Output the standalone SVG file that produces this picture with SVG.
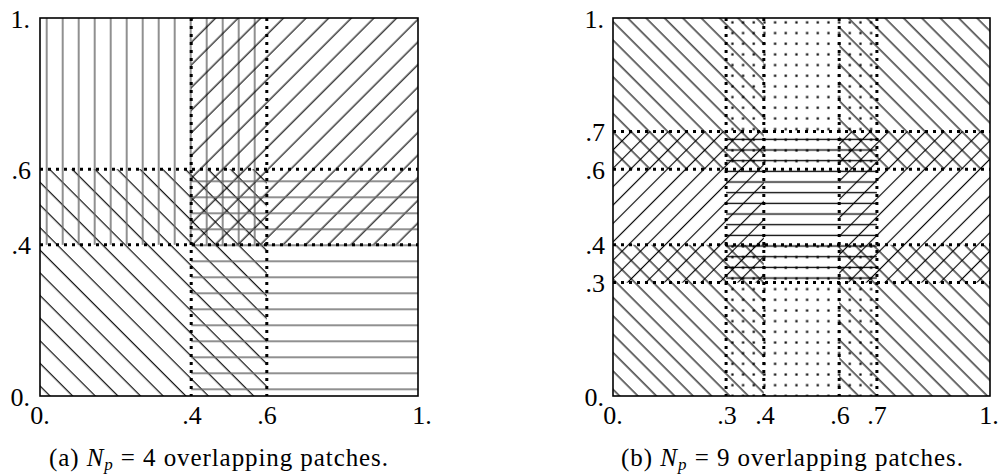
<svg xmlns="http://www.w3.org/2000/svg" width="1001" height="474" viewBox="0 0 1001 474">
<style>
.lbl{font-family:"Liberation Serif","DejaVu Serif",serif;font-size:26px;fill:#000}
.cap{font-family:"Liberation Serif","DejaVu Serif",serif;font-size:25px;fill:#000}
.dot{stroke:#000;stroke-width:3;stroke-dasharray:3 5;fill:none}
.frame{fill:none;stroke:#000;stroke-width:1.6}
</style>
<defs>
<pattern id="lv" patternUnits="userSpaceOnUse" x="38.7" y="0" width="16" height="16"><line x1="8" y1="0" x2="8" y2="16" stroke="#6a6a6a" stroke-width="1.5"/></pattern>
<pattern id="lh" patternUnits="userSpaceOnUse" x="0" y="-2.7" width="16" height="16"><line x1="0" y1="8" x2="16" y2="8" stroke="#6a6a6a" stroke-width="1.5"/></pattern>
<pattern id="lb" patternUnits="userSpaceOnUse" width="16" height="16" patternTransform="rotate(45)"><line x1="-1" y1="4.66" x2="17" y2="4.66" stroke="#000" stroke-width="1.15"/></pattern>
<pattern id="lf" patternUnits="userSpaceOnUse" width="16" height="16" patternTransform="rotate(-45)"><line x1="-1" y1="5.18" x2="17" y2="5.18" stroke="#000" stroke-width="1.15"/></pattern>
<pattern id="rb" patternUnits="userSpaceOnUse" width="13" height="13" patternTransform="rotate(45)"><line x1="-1" y1="10.9" x2="14" y2="10.9" stroke="#000" stroke-width="1.15"/></pattern>
<pattern id="rf" patternUnits="userSpaceOnUse" width="13" height="13" patternTransform="rotate(-45)"><line x1="-1" y1="6.5" x2="14" y2="6.5" stroke="#000" stroke-width="1.15"/></pattern>
<pattern id="rd" patternUnits="userSpaceOnUse" x="769.67" y="16.97" width="10.67" height="10.67"><rect x="4.33" y="4.33" width="2.2" height="2.2" fill="#000"/></pattern>
<pattern id="rh" patternUnits="userSpaceOnUse" x="0" y="134" width="10.67" height="10.67"><line x1="0" y1="5.33" x2="10.67" y2="5.33" stroke="#000" stroke-width="1.3"/></pattern>
</defs>

<g id="panel-a">
  <g id="a-patch-bl"><rect x="40" y="169.2" width="226.8" height="226.8" fill="url(#lb)"/></g>
  <g id="a-patch-tl"><rect x="40" y="18" width="226.8" height="226.8" fill="url(#lv)"/></g>
  <g id="a-patch-tr"><rect x="191.2" y="18" width="226.8" height="226.8" fill="url(#lf)"/></g>
  <g id="a-patch-br"><rect x="191.2" y="169.2" width="226.8" height="226.8" fill="url(#lh)"/></g>
  <g id="a-dividers">
    <line class="dot" x1="191.2" y1="18" x2="191.2" y2="396"/>
    <line class="dot" x1="266.8" y1="18" x2="266.8" y2="396"/>
    <line class="dot" x1="40" y1="169.2" x2="418" y2="169.2"/>
    <line class="dot" x1="40" y1="244.8" x2="418" y2="244.8"/>
  </g>
  <rect class="frame" x="40" y="18" width="378" height="378"/>
  <g id="a-labels">
    <text class="lbl" x="30" y="27.5" text-anchor="end">1.</text>
    <text class="lbl" x="31" y="178.7" text-anchor="end">.6</text>
    <text class="lbl" x="31" y="254.3" text-anchor="end">.4</text>
    <text class="lbl" x="30" y="405.5" text-anchor="end">0.</text>
    <text class="lbl" x="40" y="423.5" text-anchor="middle">0.</text>
    <text class="lbl" x="192" y="423.5" text-anchor="middle">.4</text>
    <text class="lbl" x="267" y="423.5" text-anchor="middle">.6</text>
    <text class="lbl" x="422" y="423.5" text-anchor="middle">1.</text>
  </g>
  <text class="cap" x="49" y="466" textLength="339"><tspan>(a) </tspan><tspan font-style="italic">N</tspan><tspan font-style="italic" font-size="17" dy="4">p</tspan><tspan dy="-4"> = 4 overlapping patches.</tspan></text>
</g>

<g id="panel-b">
  <g id="b-patch-tl"><rect x="613" y="18" width="150.8" height="151.2" fill="url(#rb)"/></g>
  <g id="b-patch-tm"><rect x="726.1" y="18" width="150.8" height="151.2" fill="url(#rd)"/></g>
  <g id="b-patch-tr"><rect x="839.2" y="18" width="150.8" height="151.2" fill="url(#rb)"/></g>
  <g id="b-patch-ml"><rect x="613" y="131.4" width="150.8" height="151.2" fill="url(#rf)"/></g>
  <g id="b-patch-c"><rect x="726.1" y="131.4" width="150.8" height="151.2" fill="url(#rh)"/></g>
  <g id="b-patch-mr"><rect x="839.2" y="131.4" width="150.8" height="151.2" fill="url(#rf)"/></g>
  <g id="b-patch-bl"><rect x="613" y="244.8" width="150.8" height="151.2" fill="url(#rb)"/></g>
  <g id="b-patch-bm"><rect x="726.1" y="244.8" width="150.8" height="151.2" fill="url(#rd)"/></g>
  <g id="b-patch-br"><rect x="839.2" y="244.8" width="150.8" height="151.2" fill="url(#rb)"/></g>
  <g id="b-dividers">
    <line class="dot" x1="726.1" y1="18" x2="726.1" y2="396"/>
    <line class="dot" x1="763.8" y1="18" x2="763.8" y2="396"/>
    <line class="dot" x1="839.2" y1="18" x2="839.2" y2="396"/>
    <line class="dot" x1="876.9" y1="18" x2="876.9" y2="396"/>
    <line class="dot" x1="613" y1="131.4" x2="990" y2="131.4"/>
    <line class="dot" x1="613" y1="169.2" x2="990" y2="169.2"/>
    <line class="dot" x1="613" y1="244.8" x2="990" y2="244.8"/>
    <line class="dot" x1="613" y1="282.6" x2="990" y2="282.6"/>
  </g>
  <rect class="frame" x="613" y="18" width="377" height="378"/>
  <g id="b-labels">
    <text class="lbl" x="604" y="27.5" text-anchor="end">1.</text>
    <text class="lbl" x="605" y="140.9" text-anchor="end">.7</text>
    <text class="lbl" x="605" y="178.7" text-anchor="end">.6</text>
    <text class="lbl" x="605" y="254.3" text-anchor="end">.4</text>
    <text class="lbl" x="605" y="292.1" text-anchor="end">.3</text>
    <text class="lbl" x="604" y="405.5" text-anchor="end">0.</text>
    <text class="lbl" x="613" y="423.5" text-anchor="middle">0.</text>
    <text class="lbl" x="727" y="423.5" text-anchor="middle">.3</text>
    <text class="lbl" x="765" y="423.5" text-anchor="middle">.4</text>
    <text class="lbl" x="840" y="423.5" text-anchor="middle">.6</text>
    <text class="lbl" x="877" y="423.5" text-anchor="middle">.7</text>
    <text class="lbl" x="989" y="423.5" text-anchor="middle">1.</text>
  </g>
  <text class="cap" x="621" y="466" textLength="342"><tspan>(b) </tspan><tspan font-style="italic">N</tspan><tspan font-style="italic" font-size="17" dy="4">p</tspan><tspan dy="-4"> = 9 overlapping patches.</tspan></text>
</g>
</svg>
